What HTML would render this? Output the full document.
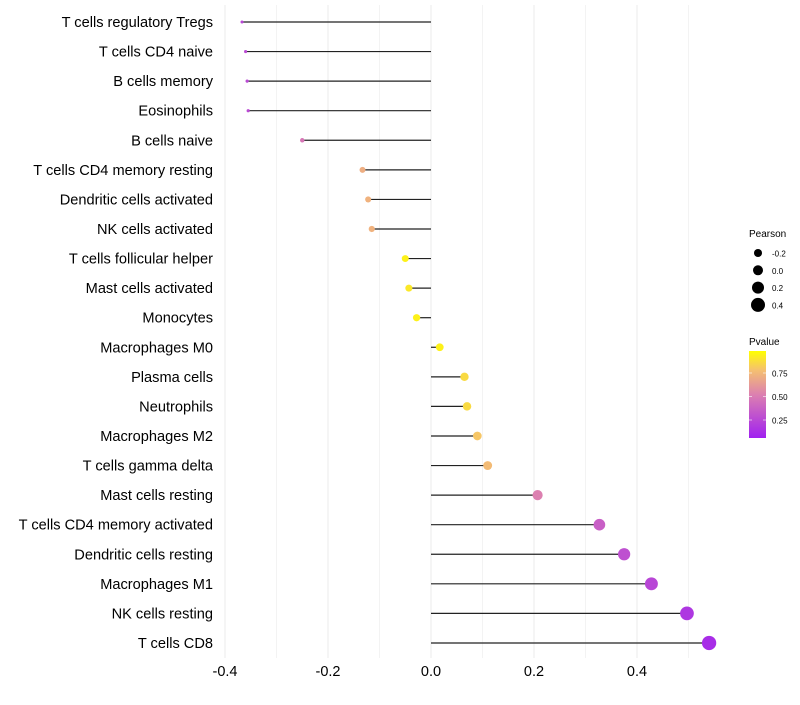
<!DOCTYPE html>
<html><head><meta charset="utf-8"><style>
body{margin:0;background:#fff;font-family:"Liberation Sans",sans-serif}
</style></head><body>
<svg id="c" width="800" height="700" xmlns="http://www.w3.org/2000/svg">
<defs><linearGradient id="pg" x1="0" y1="1" x2="0" y2="0">
<stop offset="0" stop-color="#a020f0"/><stop offset="0.5" stop-color="#dc80b0"/><stop offset="0.78" stop-color="#f5c070"/><stop offset="1" stop-color="#ffff00"/></linearGradient></defs>
</svg>
<script>
const categories=["T cells regulatory  Tregs","T cells CD4 naive","B cells memory","Eosinophils","B cells naive","T cells CD4 memory resting","Dendritic cells activated","NK cells activated","T cells follicular helper","Mast cells activated","Monocytes","Macrophages M0","Plasma cells","Neutrophils","Macrophages M2","T cells gamma delta","Mast cells resting","T cells CD4 memory activated","Dendritic cells resting","Macrophages M1","NK cells resting","T cells CD8"];
const pearson=[-0.367,-0.36,-0.357,-0.355,-0.25,-0.133,-0.122,-0.115,-0.05,-0.043,-0.028,0.017,0.065,0.07,0.09,0.11,0.207,0.327,0.375,0.428,0.497,0.54];
const pvalue=[0.2,0.22,0.22,0.22,0.45,0.7,0.72,0.72,0.95,0.92,0.95,0.95,0.87,0.87,0.8,0.76,0.5,0.33,0.25,0.2,0.12,0.07];
const xTicks=[-0.4,-0.2,0,0.2,0.4];
const xMinor=[-0.3,-0.1,0.1,0.3,0.5];
const sizeLegend=[-0.2,0,0.2,0.4];
const pTicks=[0.25,0.5,0.75];
const NS="http://www.w3.org/2000/svg",svg=document.getElementById('c');
const X=v=>431+v*515, Y=i=>22+i*29.57, R=v=>1.5+(v+0.37)*6.2, RL=v=>4+(v+0.2)*5;
function mk(t,a,p){const e=document.createElementNS(NS,t);for(const k in a)e.setAttribute(k,a[k]);(p||svg).appendChild(e);return e;}
function col(p){const st=[[0,[160,32,240]],[0.5,[220,128,176]],[0.78,[245,192,112]],[1,[255,255,0]]];
 for(let i=1;i<st.length;i++)if(p<=st[i][0]){const t=(p-st[i-1][0])/(st[i][0]-st[i-1][0]);const a=st[i-1][1],b=st[i][1];return `rgb(${a.map((c,j)=>Math.round(c+(b[j]-c)*t)).join(',')})`;}return 'rgb(255,255,0)';}
xMinor.concat(xTicks).forEach(v=>{const g=mk('line',{x1:X(v),x2:X(v),y1:5,y2:658,stroke:'#ebebeb','stroke-width':xTicks.includes(v)?1:0.6});
});
xTicks.forEach(v=>{const t=mk('text',{x:X(v),y:676,'text-anchor':'middle','font-size':14.5,fill:'#000'});t.textContent=v===0?'0.0':v.toFixed(1);
});
categories.forEach((c,i)=>{const y=Y(i);
 const t=mk('text',{x:213,y:y+5,'text-anchor':'end','font-size':14.6,fill:'#000'});t.textContent=c;
 
 const l=mk('line',{x1:X(0),x2:X(pearson[i]),y1:y,y2:y,stroke:'#222','stroke-width':1.2});
 
 const d=mk('circle',{cx:X(pearson[i]),cy:y,r:R(pearson[i]),fill:col(pvalue[i])});
 });
let t=mk('text',{x:749,y:237,'font-size':10});t.textContent='Pearson';

sizeLegend.forEach((v,i)=>{const y=253+i*17.3;const c=mk('circle',{cx:758,cy:y,r:RL(v),fill:'#000'});

const tt=mk('text',{x:772,y:y+3.5,'font-size':8});tt.textContent=v===0?'0.0':v.toFixed(1);
});
t=mk('text',{x:749,y:345,'font-size':10});t.textContent='Pvalue';

const P=p=>443.5-p*94;
const r=mk('rect',{x:749,y:351,width:17,height:87,fill:'url(#pg)'});

pTicks.forEach(p=>{const y=P(p);mk('line',{x1:749,x2:752,y1:y,y2:y,stroke:'#fff','stroke-width':0.6});mk('line',{x1:763,x2:766,y1:y,y2:y,stroke:'#fff','stroke-width':0.6});
const tt=mk('text',{x:772,y:y+3.5,'font-size':8});tt.textContent=p.toFixed(2);
});
</script>
</body></html>
